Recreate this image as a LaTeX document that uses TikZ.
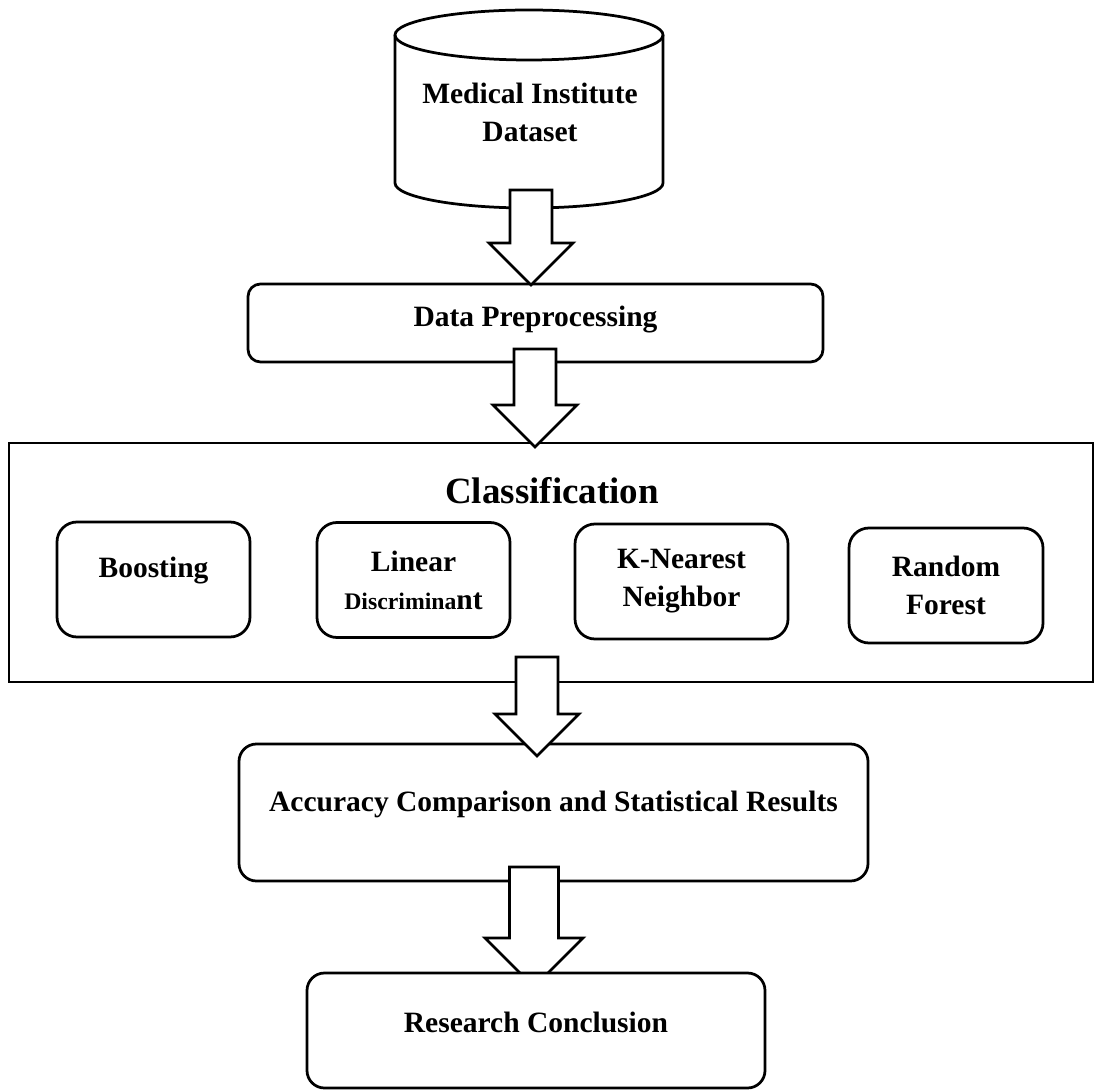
\documentclass[tikz,border=0pt]{standalone}
\usepackage{fontspec}
\setmainfont{Liberation Serif}
\usetikzlibrary{calc}

\newcommand{\barrow}[3]{%
  \draw[fill=white] ($(#1)+(-#3,0)$) -- ($(#2)+(-#3,2*#3)$) -- ($(#2)+(-2*#3,2*#3)$)
    -- (#2) -- ($(#2)+(2*#3,2*#3)$) -- ($(#2)+(#3,2*#3)$) -- ($(#1)+(#3,0)$) -- cycle;}

\begin{document}
\begin{tikzpicture}[x=0.4pt, y=0.4pt, line width=1.1pt,
  font=\fontsize{11.8}{15.2}\selectfont\bfseries,
  box/.style={draw, rounded corners=5pt, fill=white, align=center, text height=8pt},
  algo/.style={draw, rounded corners=8pt, align=center, minimum width=77.2pt, minimum height=46pt}]
 \useasboundingbox (0,0) rectangle (1097,-1090);

 % dataset
 \draw (395,-35) -- (395,-183) arc[start angle=180, end angle=360, x radius=134, y radius=25] -- (663,-35);
 \draw (529,-35) ellipse [x radius=134, y radius=25];
 \node[align=center] (db) at (530,-112) {Medical Institute\\Dataset};

 \node[box, minimum width=230pt, minimum height=31.2pt, text depth=4.8pt] (prep) at (535.5,-323) {Data Preprocessing};

 % classifiers
 \node[draw, minimum width=433.6pt, minimum height=95.6pt] (cls) at (551,-562.5) {};
 \node[font=\fontsize{14.8}{18}\selectfont\bfseries, anchor=base] (ttl) at (552,-503) {Classification};
 \node[algo, text height=8pt, text depth=10pt] (boost) at (153.5,-579.5) {Boosting};
 \node[algo] (lda) at (413.5,-580) {Linear\\{\fontsize{9.5}{12}\selectfont Discrimina}nt};
 \node[algo, minimum width=85.2pt] (knn) at (681.5,-581.5) {K-Nearest\\Neighbor};
 \node[algo, minimum width=77.6pt] (rf) at (946,-585.5) {Random\\Forest};

 \node[box, rounded corners=7pt, minimum width=251.6pt, minimum height=54.8pt, text depth=9.2pt] (acc) at (553.5,-812.5) {Accuracy Comparison and Statistical Results};

 \coordinate (a1) at (531,-190); \coordinate (b1) at (531,-285);
 \coordinate (a2) at (535,-349); \coordinate (b2) at (535,-447);
 \coordinate (a3) at (537,-657); \coordinate (b3) at (537,-756);
 \coordinate (a4) at (534,-867); \coordinate (b4) at (534,-987);
 \barrow{a1}{b1}{21}
 \barrow{a2}{b2}{21}
 \barrow{a3}{b3}{21}
 \barrow{a4}{b4}{24.5}

 \node[box, rounded corners=7pt, minimum width=183.2pt, minimum height=46pt, text depth=6.8pt] (concl) at (536,-1030.5) {Research Conclusion};
\end{tikzpicture}
\end{document}
